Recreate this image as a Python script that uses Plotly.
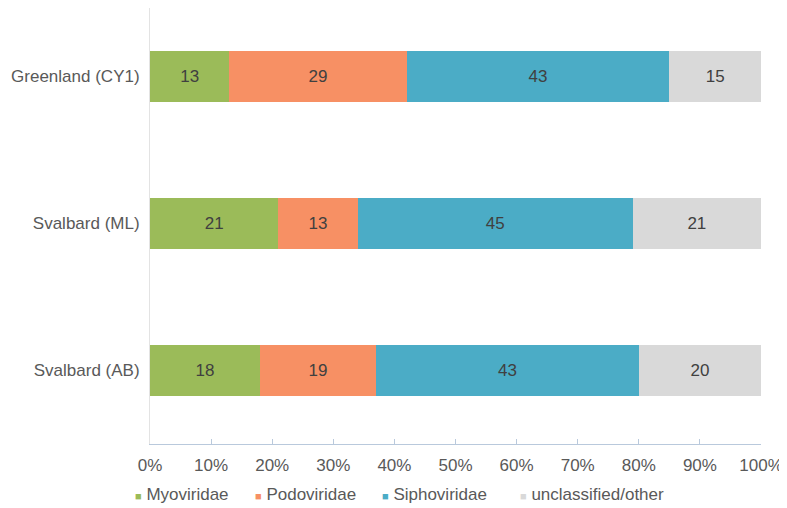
import plotly.graph_objects as go

sites = ["Greenland (CY1)", "Svalbard (ML)", "Svalbard (AB)"]
myoviridae = [13, 21, 18]
podoviridae = [29, 13, 19]
siphoviridae = [43, 45, 43]
unclassified = [15, 21, 20]
tick_vals = list(range(0, 101, 10))
tick_text = [f"{v}%" for v in tick_vals]

series = [
    ("Myoviridae", myoviridae, "#9BBB59"),
    ("Podoviridae", podoviridae, "#F79064"),
    ("Siphoviridae", siphoviridae, "#4BACC6"),
    ("unclassified/other", unclassified, "#D9D9D9"),
]

fig = go.Figure()
for name, vals, color in series:
    fig.add_trace(go.Bar(
        y=sites, x=vals, name=name, orientation="h",
        marker=dict(color=color, line=dict(width=0)),
        text=[str(v) for v in vals], texttemplate="%{text}", textposition="inside",
        insidetextanchor="middle", textangle=0,
        textfont=dict(color="#404040", size=17),
        showlegend=False,
    ))

# legend drawn as text items below the axis (tight Excel-style spacing)
# page body has an 8px margin, so the figure is laid out 8px smaller
legend_px = [133, 253, 380, 518]
for (name, vals, color), px in zip(series, legend_px):
    fig.add_annotation(
        x=(px - 150) / 611, y=-0.1147, xref="paper", yref="paper",
        xanchor="left", yanchor="middle", showarrow=False,
        text=f"<span style='color:{color};font-size:11px'>■</span> {name}",
        font=dict(size=17, color="#595959"),
    )

fig.update_layout(
    barmode="stack",
    bargap=0.653,
    width=779, height=500,
    margin=dict(l=142, r=26, t=0, b=64),
    plot_bgcolor="white", paper_bgcolor="white",
    font=dict(family="Liberation Sans, Arial, sans-serif", size=17, color="#595959"),
    showlegend=False,
    xaxis=dict(
        range=[0, 100], tickvals=tick_vals, ticktext=tick_text,
        showgrid=False, zeroline=False, automargin=False,
        showline=True, linecolor="#B9C9DC", linewidth=1,
        ticks="inside", ticklen=5, tickcolor="#B9C9DC",
        ticklabelstandoff=6,
    ),
    yaxis=dict(
        categoryorder="array", categoryarray=sites[::-1],
        range=[-0.5, 2.466],
        showgrid=False, zeroline=False, automargin=False,
        showline=True, linecolor="#E3E3E3", linewidth=1,
        ticks="", ticklabelstandoff=6,
    ),
)

fig.write_html("out.html")
